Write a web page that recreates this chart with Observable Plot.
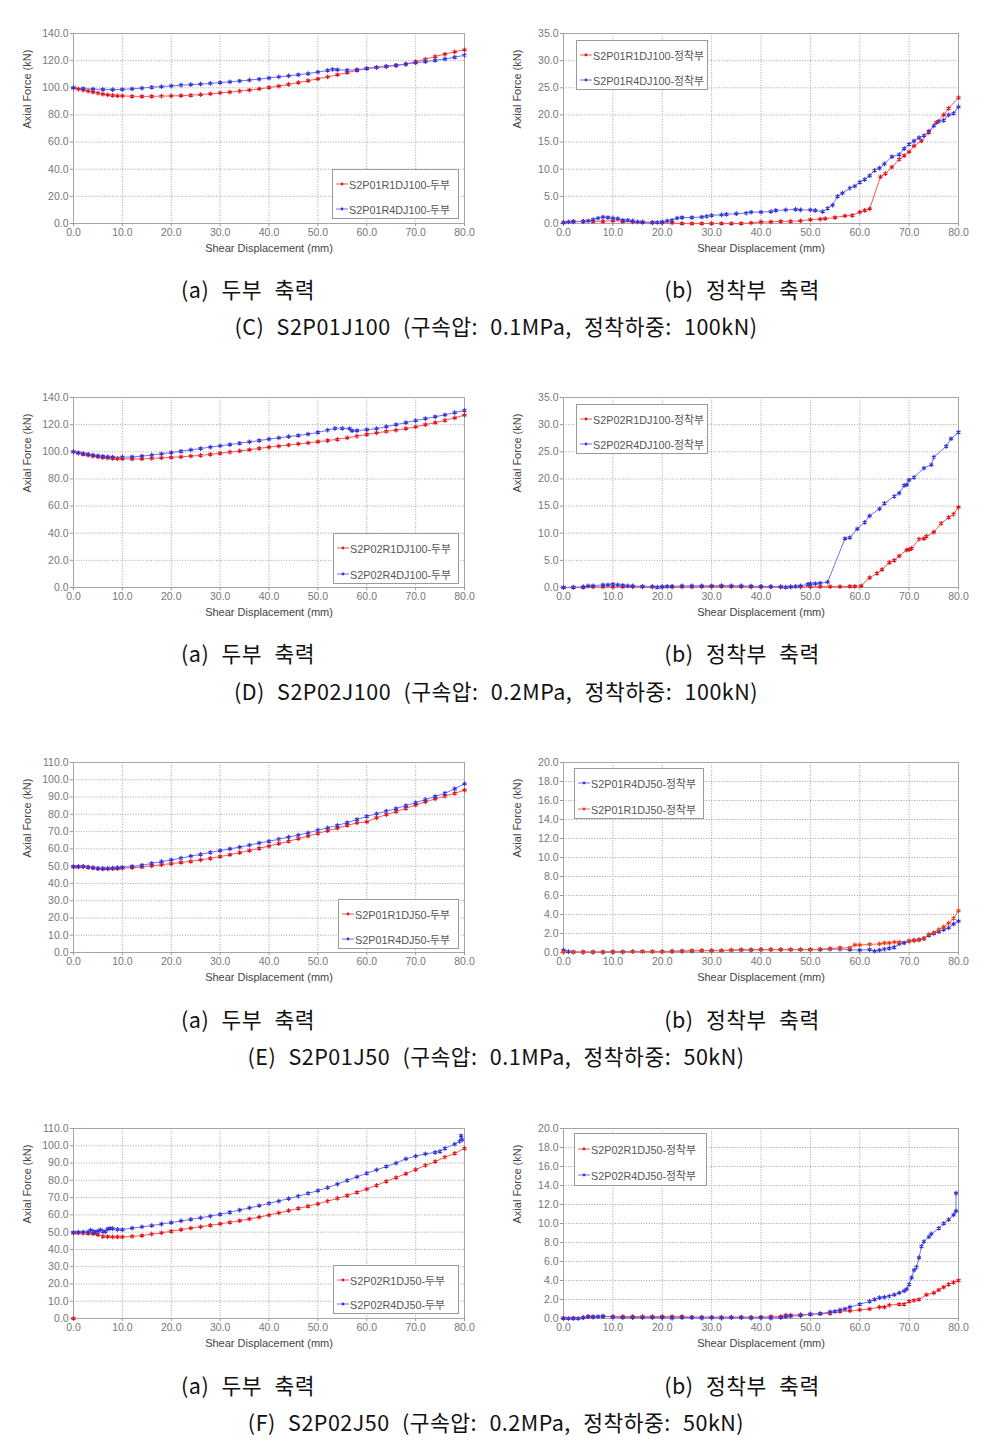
<!DOCTYPE html>
<html><head><meta charset="utf-8">
<script src="https://cdn.jsdelivr.net/npm/d3@7"></script>
<script src="https://cdn.jsdelivr.net/npm/@observablehq/plot@0.6"></script>
<style>
body{margin:0;background:#fff;}
#page{position:relative;width:997px;height:1441px;overflow:hidden;background:#fff;}
.chart{position:absolute;}
.legend{position:absolute;background:#fff;border:1px solid #9a9a9a;font-family:"Liberation Sans",Arial,"Noto Sans CJK KR",sans-serif;font-size:10.8px;color:#555;box-sizing:border-box;}
.legend .it{position:absolute;left:3px;display:flex;align-items:center;white-space:nowrap;}
.legend svg{margin-right:1px;}
.cap{position:absolute;transform:translate(-50%,-50%);font-family:"Noto Sans CJK KR","Noto Sans",sans-serif;font-size:21.5px;letter-spacing:0.5px;color:#111;white-space:nowrap;word-spacing:7px;}
</style></head>
<body><div id="page"></div>
<script>
// ---------- axis ticks ----------
const xTicks = [0,10,20,30,40,50,60,70,80];
const yTicksHead100 = [0,20,40,60,80,100,120,140];
const yTicksAnch100 = [0,5,10,15,20,25,30,35];
const yTicksHead50 = [0,10,20,30,40,50,60,70,80,90,100,110];
const yTicksAnch50 = [0,2,4,6,8,10,12,14,16,18,20];

// ---------- (C) S2P01J100 ----------
const cA_R1 = [[0,100],[1,99],[2,98.3],[3,97.6],[4,96.8],[5,96],[6,95.3],[7,94.8],[8,94.4],[9,94.1],[10,94],[12,93.7],[14,93.6],[16,93.7],[18,93.8],[20,94],[22,94.2],[24,94.5],[26,95],[28,95.5],[30,96.2],[32,96.8],[34,97.5],[36,98.3],[38,99.2],[40,100.2],[42,101.2],[44,102.5],[46,103.8],[48,105.2],[50,106.6],[52,108],[54,109.6],[56,111.2],[58,112.8],[60,114.2],[62,115],[64,115.7],[66,116.4],[68,117.5],[70,119.2],[72,121],[74,123],[76,124.8],[78,126.5],[80,128]];
const cA_R4 = [[0,100],[2,99.4],[4,99],[6,98.8],[8,98.7],[10,98.8],[12,99.2],[14,99.8],[16,100.4],[18,100.9],[20,101.4],[22,101.9],[24,102.3],[26,102.7],[28,103.2],[30,103.8],[32,104.4],[34,105],[36,105.7],[38,106.4],[40,107.2],[42,108],[44,108.8],[46,109.6],[48,110.5],[50,111.6],[52,112.8],[53,113.5],[54,113.3],[56,112.9],[58,113.3],[60,114.2],[62,115],[64,115.8],[66,116.6],[68,117.5],[70,118.4],[72,119.3],[74,120.2],[76,121.2],[78,122.5],[80,124]];
const cB_R1 = [[0,0.1],[2,0.3],[4,0.4],[6,0.4],[8,0.4],[10,0.5],[12,0.4],[14,0.3],[16,0.2],[18,0.1],[20,0.1],[22,0.1],[24,0],[26,0],[28,0],[30,0],[32,0],[34,0],[36,0],[38,0.1],[40,0.3],[42,0.3],[44,0.4],[46,0.4],[48,0.5],[50,0.7],[52,0.8],[53,0.9],[55,1.1],[57,1.4],[58.5,1.5],[60,2.1],[61,2.4],[62,2.7],[64.2,8.6],[65.2,9.2],[66.5,10.4],[68,11.8],[69,12.5],[70,13.2],[71,14.3],[72.5,15.2],[74,16.8],[75.5,18.6],[77,20],[78,21.2],[80,23.2]];
const cB_R4 = [[0,0.2],[1,0.3],[2,0.4],[4,0.4],[5,0.5],[6,0.7],[7,1.0],[8,1.2],[9,1.1],[10,1.0],[11,0.9],[12,0.6],[13,0.6],[14,0.5],[15,0.3],[16,0.3],[18,0.2],[19,0.2],[20,0.3],[21,0.5],[22,0.6],[23,1.0],[24,1.1],[26,1.1],[28,1.2],[29,1.3],[30,1.5],[32,1.6],[33,1.7],[35,1.8],[37,1.9],[38,2.1],[40,2.1],[42,2.2],[43,2.4],[45,2.5],[47,2.6],[48,2.5],[50,2.5],[51,2.4],[52.5,2.2],[53.5,2.8],[54.5,3.4],[55.5,5.0],[56.5,5.6],[58,6.5],[59,6.9],[60,7.6],[61,8.1],[62,8.8],[63,9.8],[64,10.2],[65,11.0],[66.5,12.3],[68,12.7],[69,13.8],[70,14.6],[71,15.2],[72,15.8],[73,16.2],[74,17],[75,18],[76,18.8],[77,19],[78,20],[79,20.3],[80,21.5]];

// ---------- (D) S2P02J100 ----------
const dA_R1 = [[0,100],[1,99],[2,98.2],[3,97.5],[4,96.8],[5,96.3],[6,95.8],[7,95.5],[8,95.2],[9,95],[10,94.8],[12,94.7],[14,94.8],[16,95.1],[18,95.5],[20,95.9],[22,96.3],[24,96.8],[26,97.4],[28,98.1],[30,98.9],[32,99.7],[34,100.6],[36,101.5],[38,102.5],[40,103.4],[42,104.2],[44,105],[46,105.8],[48,106.6],[50,107.4],[52,108.3],[54,109.2],[56,110.3],[58,111.5],[60,112.8],[62,113.9],[64,115],[66,116],[68,117],[70,118.3],[72,120],[74,121.5],[76,123.2],[78,125],[80,127]];
const dA_R4 = [[0,100],[1,99.3],[2,98.7],[3,98.1],[4,97.5],[5,97],[6,96.6],[7,96.3],[8,96.1],[10,96],[12,96.2],[14,96.8],[16,97.6],[18,98.5],[20,99.4],[22,100.4],[24,101.4],[26,102.4],[28,103.4],[30,104.4],[32,105.3],[34,106.3],[36,107.3],[38,108.3],[40,109.3],[42,110.3],[44,111.2],[46,112],[48,113],[50,114.3],[52,115.9],[53.5,117.3],[55,117.3],[56.5,117],[57,115.5],[58,115.6],[60,116.3],[62,117],[64,118.5],[66,120],[68,121.5],[70,123],[72,124.4],[74,125.8],[76,127.2],[78,128.9],[80,130.5]];
const dB_R1 = [[0,0],[2,0],[4,0.05],[6,0.1],[8,0.1],[10,0.1],[12,0.1],[14,0.1],[16,0.1],[18,0.1],[20,0.1],[22,0.1],[24,0.1],[26,0.1],[28,0.15],[30,0.2],[32,0.2],[34,0.2],[36,0.15],[38,0.1],[40,0.1],[42,0.1],[44,0.1],[46,0.1],[48,0.1],[50,0.15],[52,0.15],[54,0.15],[56,0.15],[58,0.2],[59,0.2],[60.3,0.3],[62,1.8],[63.5,2.6],[64.5,3.3],[66,4.6],[67,5.0],[68,5.8],[69.5,6.9],[70,7.0],[70.5,7.2],[72,8.9],[73,9.0],[73.5,9.4],[75,10.2],[76.5,11.8],[78,12.9],[79,13.5],[80,14.8]];
const dB_R4 = [[0,0],[2,0.05],[4,0.1],[5,0.3],[6,0.3],[8,0.5],[9,0.5],[10,0.6],[11,0.5],[12,0.4],[13,0.3],[14,0.3],[16,0.2],[18,0.15],[19,0.05],[20,0.1],[21,0.2],[22,0.2],[24,0.3],[26,0.3],[28,0.3],[30,0.3],[32,0.35],[34,0.3],[36,0.3],[38,0.25],[40,0.2],[42,0.15],[44,0.1],[45,0.05],[46,0.1],[47,0.2],[48,0.3],[49.5,0.6],[50,0.7],[51,0.7],[52,0.8],[53.5,1.0],[57,9.0],[58,9.2],[59.5,10.8],[61,12.0],[62,13.2],[64,14.5],[65,15.5],[67,16.8],[68,17.4],[69,18.8],[69.5,18.9],[70,19.8],[71,20.3],[73,22],[74.5,22.6],[75,24],[77.5,26],[78.5,27.4],[80,28.6]];

// ---------- (E) S2P01J50 ----------
const eA_R1 = [[0,49.5],[1,49.5],[2,49.6],[3,49.3],[4,49],[5,48.6],[6,48.4],[7,48.4],[8,48.5],[9,48.6],[10,48.8],[12,49.1],[14,49.5],[16,50.2],[18,50.8],[20,51.5],[22,52.1],[24,52.8],[26,53.6],[28,54.5],[30,55.5],[32,56.6],[34,57.8],[36,59],[38,60.3],[40,61.6],[42,63],[44,64.4],[46,65.9],[48,67.4],[50,69],[52,70.5],[54,72],[56,73.6],[58,75],[60,75.6],[62,78],[64,79.8],[66,81.6],[68,83.5],[70,85.4],[72,87.2],[74,88.9],[76,90.5],[78,92.2],[80,94]];
const eA_R4 = [[0,49.8],[1,49.8],[2,49.9],[3,49.4],[4,49],[5,48.6],[6,48.5],[7,48.6],[8,48.9],[9,49.1],[10,49.3],[12,49.8],[14,50.5],[16,51.6],[18,52.6],[20,53.6],[22,54.6],[24,55.8],[26,56.8],[28,58],[30,59],[32,60],[34,61],[36,62.2],[38,63.4],[40,64.4],[42,65.6],[44,66.8],[46,68],[48,69.3],[50,70.8],[52,72.2],[54,73.6],[56,75.2],[58,77],[60,78.8],[62,80.3],[64,81.8],[66,83.3],[68,85],[70,86.8],[72,88.5],[74,90.3],[76,92.2],[78,94.8],[80,97.6]];
const eB_R4 = [[0,0.25],[1,0.1],[2,0.05],[4,0.05],[6,0.05],[8,0.05],[10,0.05],[12,0.05],[14,0.1],[16,0.1],[18,0.1],[20,0.1],[22,0.15],[24,0.15],[26,0.15],[28,0.2],[30,0.2],[32,0.2],[34,0.25],[36,0.25],[38,0.25],[40,0.3],[42,0.3],[44,0.3],[46,0.3],[48,0.3],[50,0.3],[52,0.3],[54,0.35],[56,0.35],[58,0.3],[60,0.25],[62,0.3],[63,0.15],[64,0.25],[65,0.35],[66,0.45],[67,0.55],[68,0.9],[69,1.0],[70,1.2],[71,1.3],[72,1.35],[73,1.45],[74,1.8],[75,2.0],[76,2.2],[77,2.4],[78,2.6],[79,3.0],[80,3.3]];
const eB_R1 = [[0,0.05],[2,0.05],[4,0.05],[6,0.05],[8,0.05],[10,0.1],[12,0.1],[14,0.1],[16,0.1],[18,0.1],[20,0.1],[22,0.1],[24,0.15],[26,0.2],[28,0.2],[30,0.2],[32,0.2],[34,0.25],[36,0.3],[38,0.3],[40,0.3],[42,0.3],[44,0.3],[46,0.3],[48,0.3],[50,0.3],[52,0.35],[54,0.4],[56,0.5],[58,0.5],[59,0.8],[60,0.8],[62,0.85],[64,0.9],[65,1.0],[66,1.0],[67,1.1],[68,1.1],[70,1.2],[71,1.25],[72,1.3],[73,1.5],[74,1.9],[75,2.1],[76,2.4],[77,2.7],[78,3.1],[79,3.6],[80,4.4]];

// ---------- (F) S2P02J50 ----------
const fA_R1 = [[0,49.5],[1,49.5],[2,49.4],[3,49.3],[4,49],[5,48.5],[6,47.6],[7,47.4],[8,47.3],[9,47.2],[10,47.2],[12,47.5],[14,48],[16,48.8],[18,49.6],[20,50.5],[22,51.4],[24,52.3],[26,53.1],[28,53.9],[30,54.8],[32,55.7],[34,56.6],[36,57.6],[38,58.7],[40,59.9],[42,61.1],[44,62.4],[46,63.7],[48,65],[50,66.4],[52,67.9],[54,69.5],[56,71.2],[58,73],[60,74.9],[62,77.1],[64,79.4],[66,81.6],[68,83.8],[70,86.2],[72,88.6],[74,90.8],[76,93.4],[78,95.6],[80,98.5]];
const fA_R1_origin = [[0,0]];
const fA_R4 = [[0,49.8],[1,50],[2,50],[3,50.2],[3.5,51.2],[4,50.5],[4.5,49.8],[5,50.6],[5.5,51.3],[6,50.5],[6.5,50.2],[7,51.8],[7.5,52.2],[8,52],[9,51.6],[10,51.5],[12,52.3],[14,53],[16,53.8],[18,54.7],[20,55.5],[22,56.5],[24,57.4],[26,58.3],[28,59.3],[30,60.3],[32,61.5],[34,62.8],[36,64],[38,65.3],[40,66.6],[42,68],[44,69.4],[46,70.8],[48,72.4],[50,74],[52,75.8],[54,77.8],[56,80],[58,82],[60,84.1],[62,86],[64,88],[66,90],[68,92.4],[70,94],[72,95.3],[74,96.2],[75,96.8],[76,98.5],[78,101],[79,102.5],[79.3,105.8],[79.5,103.5]];
const fB_R1 = [[0,0.05],[2,0.05],[4,0.1],[5,0.2],[6,0.2],[8,0.2],[10,0.2],[12,0.2],[14,0.2],[16,0.2],[18,0.2],[20,0.2],[22,0.2],[24,0.2],[26,0.15],[28,0.15],[30,0.15],[32,0.15],[34,0.15],[36,0.15],[38,0.15],[40,0.15],[42,0.2],[44,0.2],[45,0.35],[46,0.35],[48,0.4],[50,0.45],[52,0.5],[54,0.55],[56,0.75],[58,0.8],[60,0.9],[62,1.0],[64,1.2],[65,1.2],[66,1.4],[68,1.5],[69,1.5],[70,1.8],[71,1.9],[72,2.0],[73.5,2.5],[75,2.7],[76,3.0],[77,3.3],[78,3.6],[79,3.8],[80,4.0]];
const fB_R4 = [[0,0],[1,0],[2,0],[3,0],[4,0.1],[5,0.2],[6,0.15],[7,0.2],[8,0.25],[10,0.15],[12,0.1],[14,0.1],[16,0.1],[18,0.1],[20,0.1],[22,0.05],[24,0.1],[26,0.1],[28,0.05],[30,0.1],[32,0.05],[34,0.1],[36,0.1],[38,0.05],[40,0.1],[42,0.05],[44,0.1],[45,0.2],[46,0.25],[48,0.3],[50,0.45],[52,0.5],[54,0.7],[55,0.75],[56,0.9],[57,1.0],[58,1.2],[60,1.5],[62,1.8],[63,2.0],[64,2.2],[65,2.25],[66,2.35],[67,2.5],[68,2.7],[69,2.9],[69.5,3.1],[70,3.6],[70.5,4.3],[71,5.1],[71.5,5.4],[72,6.4],[72.5,7.6],[73,8.1],[74,8.6],[74.5,8.9],[76,9.5],[77,10],[78,10.4],[79,10.9],[79.5,11.3],[79.5,13.2]];

// ---------- styles ----------
const RED = {line:"#f25a5a", mark:"#e3141c"};
const ORANGE = {line:"#f26a4a", mark:"#ee3a10"};
const BLUE = {line:"#7070f0", mark:"#3434d8"};

const charts = [
  {col:0, top:33, yMax:140, yTicks:yTicksHead100, series:[{d:cA_R1,s:RED},{d:cA_R4,s:BLUE}],
   legend:{x:332,y:169,w:127,h:50,items:[["S2P01R1DJ100-두부",RED],["S2P01R4DJ100-두부",BLUE]]}},
  {col:1, top:33, yMax:35, yTicks:yTicksAnch100, series:[{d:cB_R1,s:RED},{d:cB_R4,s:BLUE}],
   legend:{x:576,y:40,w:132,h:50,items:[["S2P01R1DJ100-정착부",RED],["S2P01R4DJ100-정착부",BLUE]]}},
  {col:0, top:397, yMax:140, yTicks:yTicksHead100, series:[{d:dA_R1,s:RED},{d:dA_R4,s:BLUE}],
   legend:{x:333,y:533,w:126,h:51,items:[["S2P02R1DJ100-두부",RED],["S2P02R4DJ100-두부",BLUE]]}},
  {col:1, top:397, yMax:35, yTicks:yTicksAnch100, series:[{d:dB_R1,s:RED},{d:dB_R4,s:BLUE}],
   legend:{x:576,y:404,w:132,h:50,items:[["S2P02R1DJ100-정착부",RED],["S2P02R4DJ100-정착부",BLUE]]}},
  {col:0, top:762, yMax:110, yTicks:yTicksHead50, series:[{d:eA_R1,s:RED},{d:eA_R4,s:BLUE}],
   legend:{x:338,y:899,w:121,h:50,items:[["S2P01R1DJ50-두부",RED],["S2P01R4DJ50-두부",BLUE]]}},
  {col:1, top:762, yMax:20, yTicks:yTicksAnch50, series:[{d:eB_R4,s:BLUE},{d:eB_R1,s:ORANGE}],
   legend:{x:574,y:768,w:130,h:51,items:[["S2P01R4DJ50-정착부",BLUE],["S2P01R1DJ50-정착부",ORANGE]]}},
  {col:0, top:1128, yMax:110, yTicks:yTicksHead50, series:[{d:fA_R1,s:RED},{d:fA_R4,s:BLUE},{d:fA_R1_origin,s:RED,dotOnly:true}],
   legend:{x:333,y:1265,w:126,h:49,items:[["S2P02R1DJ50-두부",RED],["S2P02R4DJ50-두부",BLUE]]}},
  {col:1, top:1128, yMax:20, yTicks:yTicksAnch50, series:[{d:fB_R1,s:RED},{d:fB_R4,s:BLUE}],
   legend:{x:574,y:1133,w:133,h:53,items:[["S2P02R1DJ50-정착부",RED],["S2P02R4DJ50-정착부",BLUE]]}},
];

const captions = [
  {t:"(a) 두부 축력", x:248, y:288},{t:"(b) 정착부 축력", x:742, y:288},
  {t:"(C) S2P01J100 (구속압: 0.1MPa, 정착하중: 100kN)", x:496, y:325},
  {t:"(a) 두부 축력", x:248, y:652},{t:"(b) 정착부 축력", x:742, y:652},
  {t:"(D) S2P02J100 (구속압: 0.2MPa, 정착하중: 100kN)", x:496, y:690},
  {t:"(a) 두부 축력", x:248, y:1018},{t:"(b) 정착부 축력", x:742, y:1018},
  {t:"(E) S2P01J50 (구속압: 0.1MPa, 정착하중: 50kN)", x:496, y:1055},
  {t:"(a) 두부 축력", x:248, y:1384},{t:"(b) 정착부 축력", x:742, y:1384},
  {t:"(F) S2P02J50 (구속압: 0.2MPa, 정착하중: 50kN)", x:496, y:1421},
];

const page = document.getElementById("page");
const fmt = d => d.toFixed(1);

for (const c of charts) {
  const ml = 73, mt = 15, mb = 45, fh = 190;
  const W = c.col === 0 ? 490 : 500;
  const fw = c.col === 0 ? 391 : 395;
  const mr = W - ml - fw;
  const marks = [
    Plot.gridX(xTicks, {stroke:"#8c8c8c", strokeOpacity:1, strokeDasharray:"1,1.6", strokeWidth:0.8}),
    Plot.gridY(c.yTicks, {stroke:"#8c8c8c", strokeOpacity:1, strokeDasharray:"1,1.6", strokeWidth:0.8}),
    Plot.frame({stroke:"#a5a5a5"}),
    Plot.axisX(xTicks, {tickSize:3, tickPadding:2, tickFormat:fmt, label:null, stroke:"#999", fill:"#777"}),
    Plot.axisY(c.yTicks, {tickSize:3, tickPadding:2, tickFormat:fmt, label:null, stroke:"#999", fill:"#777"}),
    Plot.text(["Shear Displacement (mm)"], {frameAnchor:"bottom", dy:28, fill:"#444", fontSize:11}),
    Plot.text(["Axial Force (kN)"], {frameAnchor:"left", dx:-46, rotate:-90, fill:"#444", fontSize:11}),
  ];
  for (const s of c.series) {
    if (!s.dotOnly) marks.push(Plot.line(s.d, {x:d=>d[0], y:d=>d[1], stroke:s.s.line, strokeWidth:1}));
  }
  for (const s of c.series) {
    marks.push(Plot.dot(s.d, {x:d=>d[0], y:d=>d[1], symbol:"asterisk", r:2.2, stroke:s.s.mark, strokeWidth:1.1}));
  }
  const svg = Plot.plot({
    width: W, height: mt + fh + mb,
    marginLeft: ml, marginRight: mr, marginTop: mt, marginBottom: mb,
    x: {domain:[0,80]},
    y: {domain:[0,c.yMax]},
    style: {fontFamily:"'Liberation Sans', Arial, sans-serif", fontSize:"10.5px", background:"transparent", color:"#777"},
    marks
  });
  const div = document.createElement("div");
  div.className = "chart";
  div.style.left = (c.col === 0 ? 0 : 490) + "px";
  div.style.top = (c.top - mt) + "px";
  div.appendChild(svg);
  page.appendChild(div);

  const L = c.legend;
  const lg = document.createElement("div");
  lg.className = "legend";
  Object.assign(lg.style, {left:L.x+"px", top:L.y+"px", width:L.w+"px", height:L.h+"px"});
  L.items.forEach((it, i) => {
    const row = document.createElement("div");
    row.className = "it";
    row.style.top = (i === 0 ? L.h*0.26 - 7 : L.h*0.76 - 7) + "px";
    row.innerHTML = `<svg width="12" height="10"><line x1="0" y1="5" x2="12" y2="5" stroke="${it[1].line}" stroke-width="1"/><circle cx="6" cy="5" r="1.4" fill="${it[1].mark}"/></svg><span>${it[0]}</span>`;
    lg.appendChild(row);
  });
  page.appendChild(lg);
}

for (const cp of captions) {
  const d = document.createElement("div");
  d.className = "cap";
  d.style.left = cp.x + "px";
  d.style.top = cp.y + "px";
  d.textContent = cp.t;
  page.appendChild(d);
}
</script>
</body></html>
